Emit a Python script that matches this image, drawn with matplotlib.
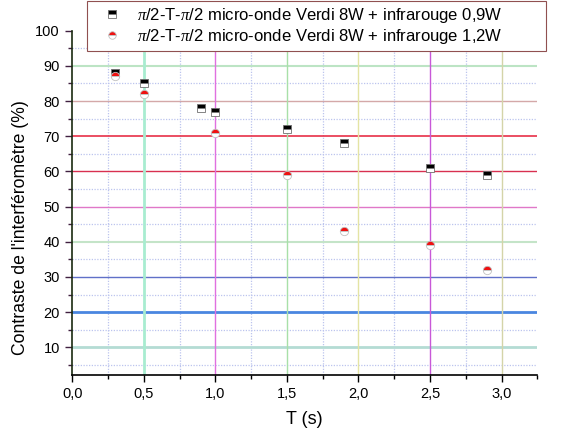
import matplotlib
matplotlib.use("Agg")
import matplotlib.pyplot as plt
from matplotlib.ticker import FuncFormatter, MultipleLocator

plt.rcParams["font.family"] = ["Liberation Sans", "DejaVu Sans"]
plt.rcParams["mathtext.fontset"] = "custom"
plt.rcParams["mathtext.it"] = "Liberation Serif:italic"

# data
t_09 = [0.3, 0.5, 0.9, 1.0, 1.5, 1.9, 2.5, 2.9]
c_09 = [88, 85, 78, 77, 72, 68, 61, 59]
t_12 = [0.3, 0.5, 1.0, 1.5, 1.9, 2.5, 2.9]
c_12 = [87, 82, 71, 59, 43, 39, 32]
label_09 = r"$\mathit{\pi}$/2-T-$\mathit{\pi}$/2 micro-onde Verdi 8W + infrarouge 0,9W"
label_12 = r"$\mathit{\pi}$/2-T-$\mathit{\pi}$/2 micro-onde Verdi 8W + infrarouge 1,2W"

# coloured major grid lines (value, colour, width)
hgrid = [(10, "#b4dcd4", 2.0), (20, "#4a86e0", 2.0), (30, "#6070c8", 1.0),
         (40, "#c4e4c8", 1.5), (50, "#e078c8", 1.0), (60, "#d83050", 1.0),
         (70, "#e83048", 1.2), (80, "#d4a8a8", 1.0), (90, "#bce4c4", 1.5)]
vgrid = [(0.5, "#a8ecd0", 2.0), (1.0, "#e070e0", 1.0), (1.5, "#a8e0a8", 1.0),
         (2.0, "#e4e4a4", 1.0), (2.5, "#c858d8", 1.0), (3.0, "#d4d4a8", 1.0)]

fig = plt.figure(figsize=(5.66, 4.33), dpi=100)
ax = fig.add_axes([0.1277, 0.1346, 0.8216, 0.7944])

ax.set_xlim(0, 3.25)
ax.set_ylim(2.2, 100)

for y in range(5, 100, 10):
    ax.axhline(y, color="#bcc4ee", lw=0.9, ls=(0, (1, 1.2)), zorder=1)
for x in [0.25, 0.75, 1.25, 1.75, 2.25, 2.75]:
    ax.axvline(x, color="#bcc4ee", lw=0.9, ls=(0, (1, 1.2)), zorder=1)
for y, c, w in hgrid:
    ax.axhline(y, color=c, lw=w, zorder=1)
for x, c, w in vgrid:
    ax.axvline(x, color=c, lw=w, zorder=1)

ax.plot(t_09, c_09, ls="none", marker="s", ms=6, fillstyle="top",
        markerfacecolor="black", markerfacecoloralt="white",
        markeredgecolor="#707070", markeredgewidth=0.6, label=label_09, zorder=3)
ax.plot(t_12, c_12, ls="none", marker="o", ms=6, fillstyle="top",
        markerfacecolor="#ee1111", markerfacecoloralt="white",
        markeredgecolor="#c0c0c0", markeredgewidth=0.6, label=label_12, zorder=3)

ax.xaxis.set_major_locator(MultipleLocator(0.5))
ax.xaxis.set_minor_locator(MultipleLocator(0.25))
ax.yaxis.set_major_locator(MultipleLocator(10))
ax.yaxis.set_minor_locator(MultipleLocator(5))
ax.xaxis.set_major_formatter(FuncFormatter(lambda v, p: f"{v:.1f}".replace(".", ",")))
ax.set_yticks(range(10, 101, 10))

for s in ["top", "right"]:
    ax.spines[s].set_visible(False)
ax.spines["left"].set_color("#1a2a10")
ax.spines["bottom"].set_color("black")
ax.spines["left"].set_linewidth(1.2)
ax.spines["bottom"].set_linewidth(1.2)
ax.tick_params(which="major", direction="out", length=5, width=1, labelsize=10.5, pad=4)
ax.tick_params(which="minor", direction="out", length=3, width=1)
ax.tick_params(axis="y", which="both", colors="#402040", labelcolor="black")
ax.tick_params(axis="x", which="both", colors="black", labelcolor="black")

ax.set_xlabel("T (s)", fontsize=13)
ax.xaxis.set_label_coords(0.5, -0.105)
ax.set_ylabel("Contraste de l'interféromètre (%)", fontsize=12.7)
ax.yaxis.set_label_coords(-0.092, 0.429)

leg = ax.legend(loc="upper left", bbox_to_anchor=(0.0323, 0.9, 0.9865, 0.1872),
                mode="expand", fontsize=12, frameon=True, fancybox=False,
                framealpha=1, edgecolor="#905050", borderpad=0.3,
                handlelength=2.4, handletextpad=0.3, labelspacing=0.15,
                borderaxespad=0, markerscale=0.9)
leg.get_frame().set_linewidth(0.8)
leg.set_zorder(5)

fig.savefig("out.png", dpi=100)
